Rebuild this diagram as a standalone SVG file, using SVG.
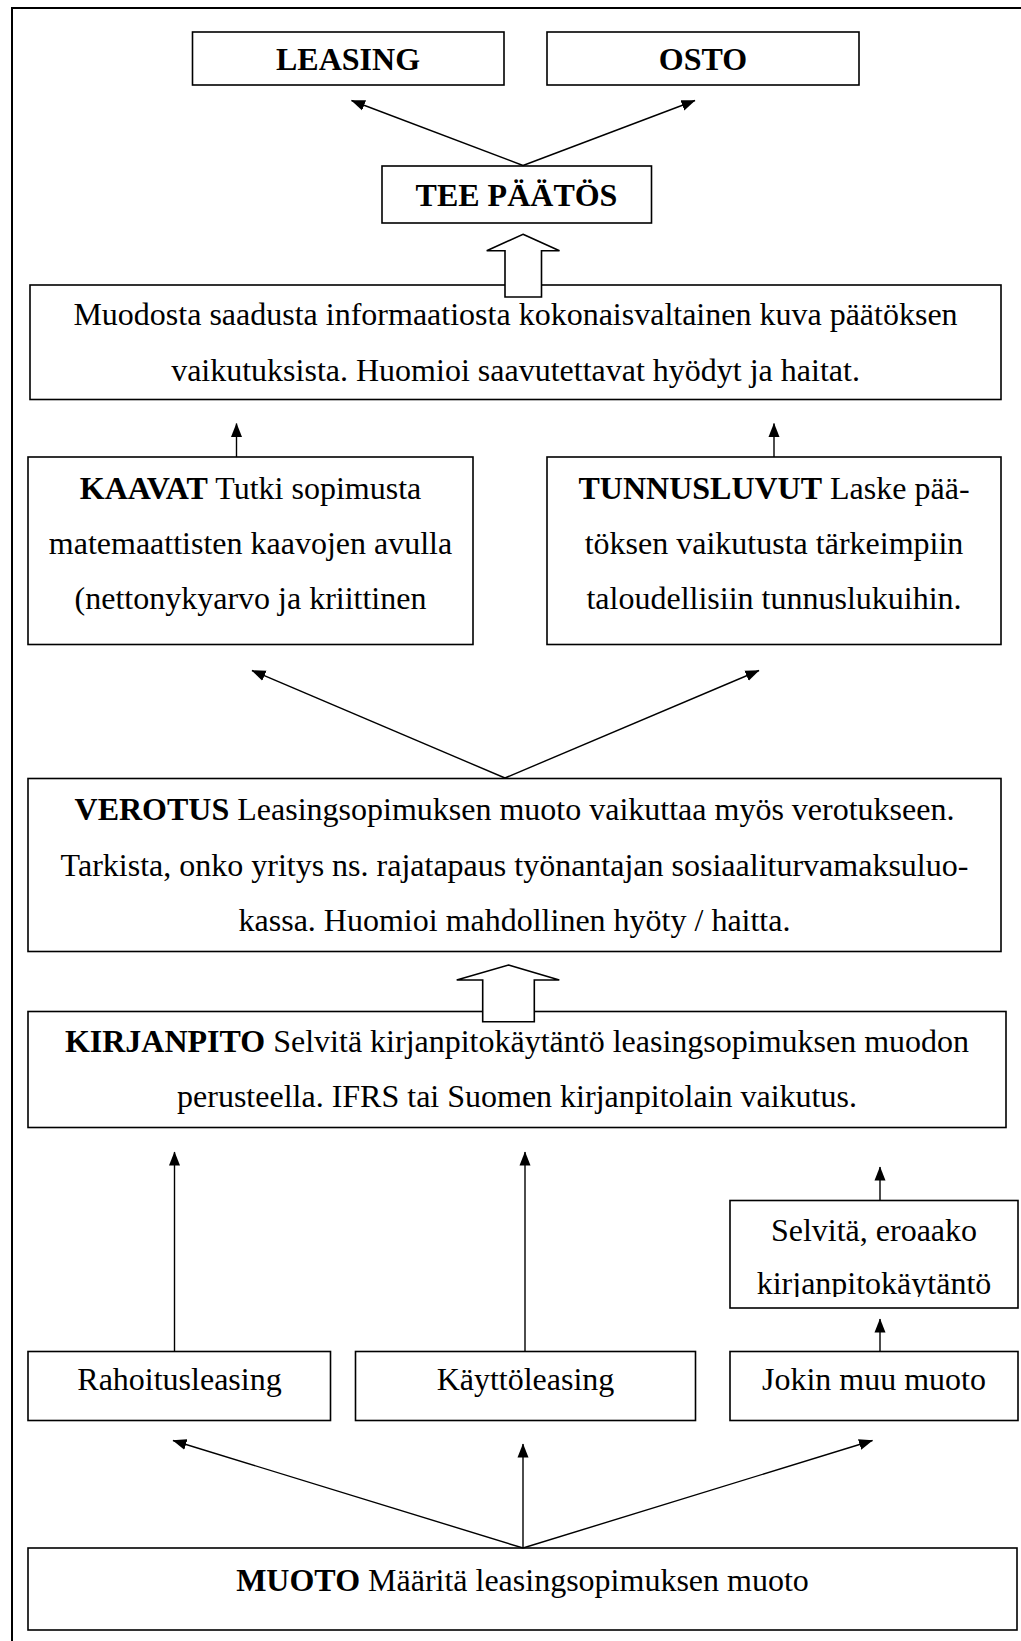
<svg xmlns="http://www.w3.org/2000/svg" width="1021" height="1641" viewBox="0 0 1021 1641">
<style>
.box{fill:#fff;stroke:#000;stroke-width:1.6}
.t{font-family:"Liberation Serif","Times New Roman",serif;font-size:32px;fill:#000;text-anchor:middle}
.b{font-weight:bold}
.ln{stroke:#000;stroke-width:1.4;fill:none;marker-end:url(#ah)}
.blk{fill:#fff;stroke:#000;stroke-width:1.6;stroke-linejoin:miter}
</style>
<defs>
<marker id="ah" markerUnits="userSpaceOnUse" markerWidth="15" markerHeight="12" refX="13.5" refY="6" orient="auto">
<path d="M0,0.5 L14,6 L0,11.5 z" fill="#000"/>
</marker>
<clipPath id="clipSel"><rect x="730" y="1200" width="290" height="97"/></clipPath>
</defs>
<rect width="1021" height="1641" fill="#fff"/>
<path d="M12,1641 L12,8 L1021,8" fill="none" stroke="#000" stroke-width="2"/>

<g id="leasing"><rect class="box" x="192.5" y="32" width="311.5" height="53"/><text class="t b" x="348" y="70">LEASING</text></g>
<g id="osto"><rect class="box" x="547" y="32" width="312" height="53"/><text class="t b" x="703" y="70">OSTO</text></g>
<g id="tee"><rect class="box" x="382" y="166" width="269.5" height="57"/><text class="t b" x="516.5" y="206">TEE PÄÄTÖS</text></g>
<g id="muodosta"><rect class="box" x="30" y="285" width="971" height="114.5"/>
<text class="t" x="515.5" y="325">Muodosta saadusta informaatiosta kokonaisvaltainen kuva päätöksen</text>
<text class="t" x="515.5" y="381">vaikutuksista. Huomioi saavutettavat hyödyt ja haitat.</text></g>
<g id="kaavat"><rect class="box" x="28" y="457" width="445" height="187.5"/>
<text class="t" x="250.5" y="499"><tspan class="b">KAAVAT</tspan> Tutki sopimusta</text>
<text class="t" x="250.5" y="554">matemaattisten kaavojen avulla</text>
<text class="t" x="250.5" y="609">(nettonykyarvo ja kriittinen</text></g>
<g id="tunnusluvut"><rect class="box" x="547" y="457" width="454" height="187.5"/>
<text class="t" x="774" y="499"><tspan class="b">TUNNUSLUVUT</tspan> Laske pää-</text>
<text class="t" x="774" y="554">töksen vaikutusta tärkeimpiin</text>
<text class="t" x="774" y="609">taloudellisiin tunnuslukuihin.</text></g>
<g id="verotus"><rect class="box" x="28" y="778.5" width="973" height="173"/>
<text class="t" x="514.5" y="820"><tspan class="b">VEROTUS</tspan> Leasingsopimuksen muoto vaikuttaa myös verotukseen.</text>
<text class="t" x="514.5" y="876">Tarkista, onko yritys ns. rajatapaus työnantajan sosiaaliturvamaksuluo-</text>
<text class="t" x="514.5" y="931">kassa. Huomioi mahdollinen hyöty / haitta.</text></g>
<g id="kirjanpito"><rect class="box" x="28" y="1011.5" width="978" height="116"/>
<text class="t" x="517" y="1052"><tspan class="b">KIRJANPITO</tspan> Selvitä kirjanpitokäytäntö leasingsopimuksen muodon</text>
<text class="t" x="517" y="1107">perusteella. IFRS tai Suomen kirjanpitolain vaikutus.</text></g>
<g id="selvita"><rect class="box" x="730" y="1200.5" width="288" height="107.5"/>
<g clip-path="url(#clipSel)"><text class="t" x="874" y="1241">Selvitä, eroaako</text>
<text class="t" x="874" y="1294">kirjanpitokäytäntö</text></g></g>
<g id="rahoitus"><rect class="box" x="28" y="1351.5" width="302.5" height="69"/><text class="t" x="179.5" y="1390">Rahoitusleasing</text></g>
<g id="kaytto"><rect class="box" x="355.5" y="1351.5" width="340" height="69"/><text class="t" x="525.5" y="1390">Käyttöleasing</text></g>
<g id="jokin"><rect class="box" x="730" y="1351.5" width="288" height="69"/><text class="t" x="874" y="1390">Jokin muu muoto</text></g>
<g id="muoto"><rect class="box" x="28" y="1548" width="989" height="82"/>
<text class="t" x="522.5" y="1591"><tspan class="b">MUOTO</tspan> Määritä leasingsopimuksen muoto</text></g>

<g id="connectors">
<line class="ln" x1="523" y1="165.5" x2="351.5" y2="100.5"/>
<line class="ln" x1="523" y1="165.5" x2="695" y2="100.5"/>
<line class="ln" x1="236.5" y1="457" x2="236.5" y2="423.5"/>
<line class="ln" x1="774" y1="457" x2="774" y2="423.5"/>
<line class="ln" x1="505" y1="778" x2="252" y2="670.5"/>
<line class="ln" x1="505" y1="778" x2="759" y2="670.5"/>
<line class="ln" x1="174.5" y1="1351.5" x2="174.5" y2="1152"/>
<line class="ln" x1="525" y1="1351.5" x2="525" y2="1152"/>
<line class="ln" x1="880" y1="1200.5" x2="880" y2="1167"/>
<line class="ln" x1="880" y1="1351.5" x2="880" y2="1319"/>
<line class="ln" x1="523" y1="1548" x2="173" y2="1440.5"/>
<line class="ln" x1="523" y1="1548" x2="523" y2="1444"/>
<line class="ln" x1="523" y1="1548" x2="872.5" y2="1440.5"/>
<polygon class="blk" points="523,234.3 559.5,250.7 541.5,250.7 541.5,297 505,297 505,250.7 486.7,250.7"/>
<polygon class="blk" points="508.5,965 559.3,980 534.3,980 534.3,1021.7 482.7,1021.7 482.7,980 456.7,980"/>
</g>
</svg>
